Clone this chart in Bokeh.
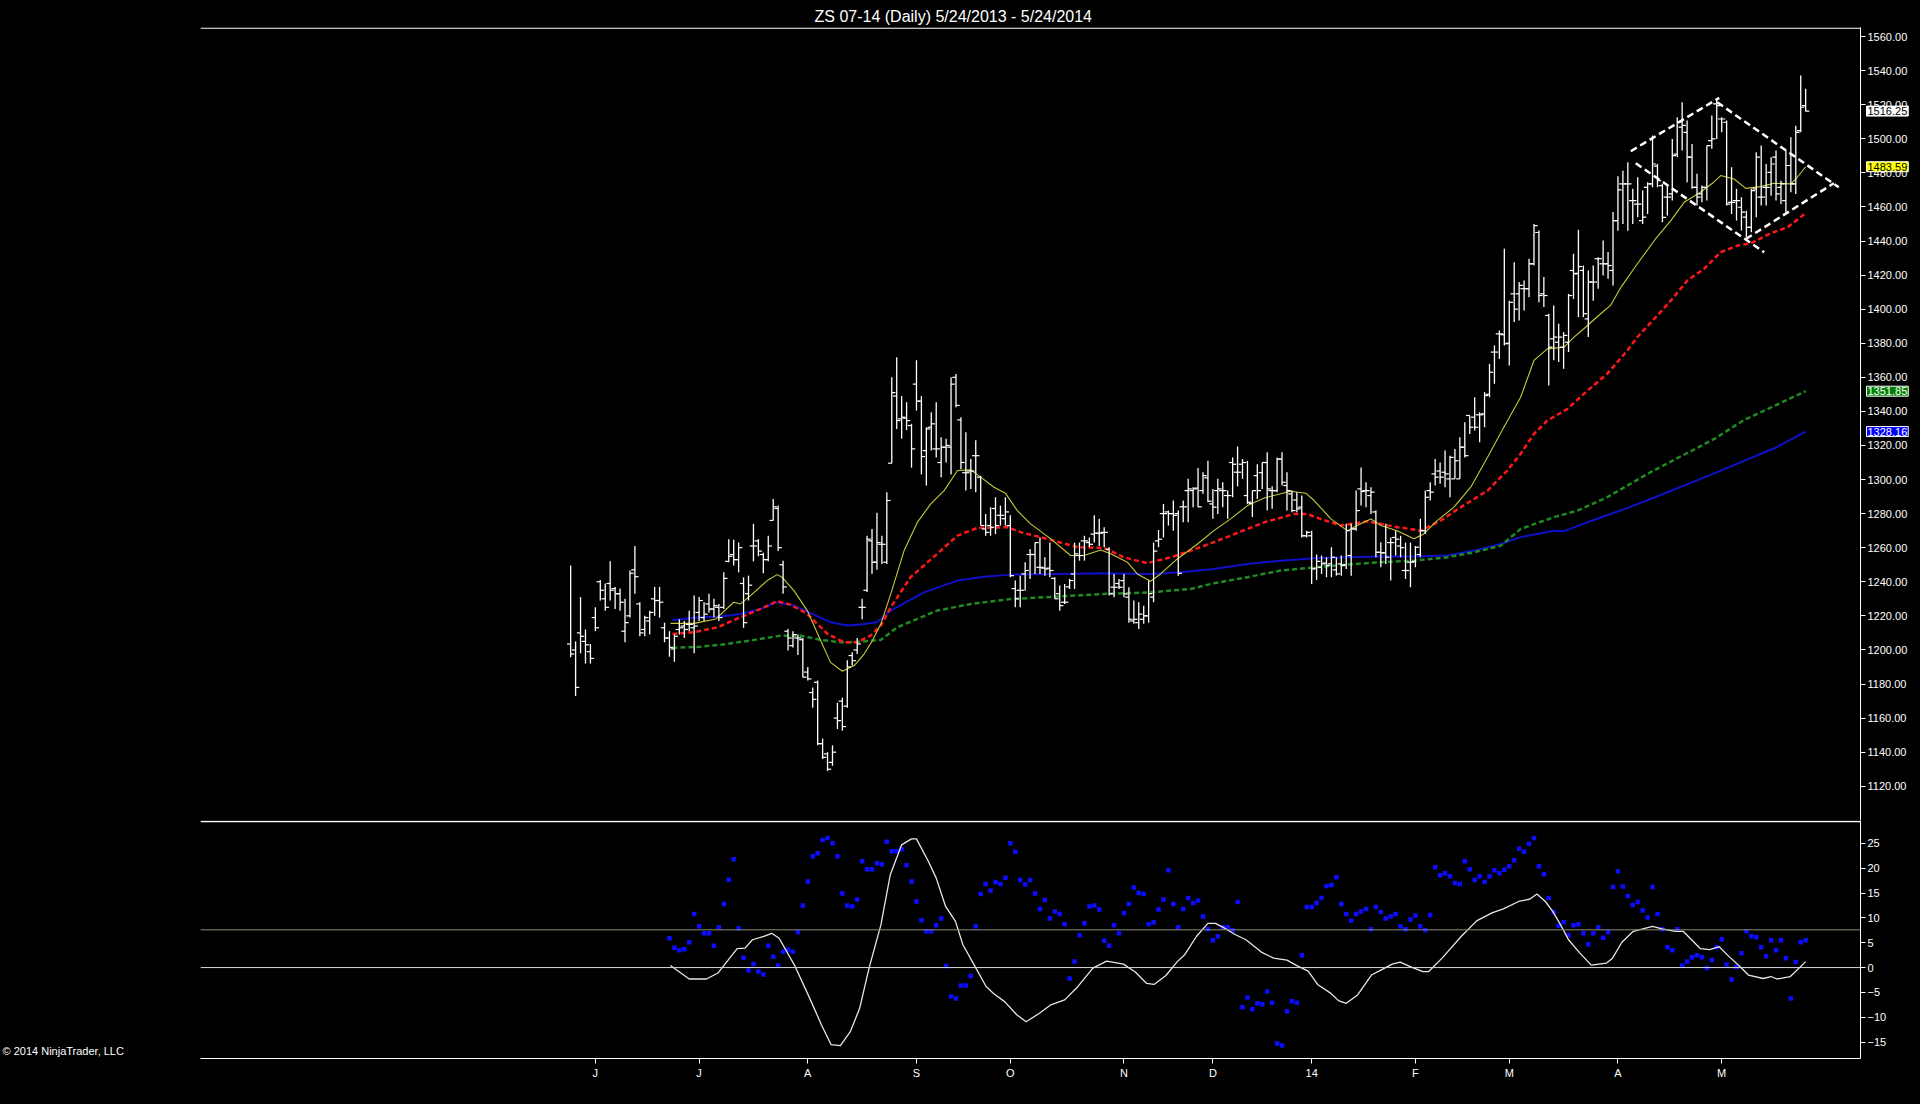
import numpy as np
from bokeh.plotting import figure
from bokeh.layouts import column
from bokeh.models import ColumnDataSource, Range1d, FixedTicker, NumeralTickFormatter, Label, Span
from bokeh.embed import file_html
from bokeh.resources import INLINE

title_text = "ZS 07-14 (Daily)  5/24/2013 - 5/24/2014"
copyright_text = "\u00a9 2014 NinjaTrader, LLC"

# ---- daily OHLC (bar index 0 = 5/24/2013) ----
opens = [
1203.5,1200,1210,1205,1199,1219,1240,1230,1239,1236,
1233,1211,1220,1247,1227,1212,1217,1230,1229,1213,
1207,1200.6,1212,1214,1215,1213,1222,1219,1227,1224,
1225,1225,1252,1256,1253,1239,1233,1261,1264,1256,
1253,1276,1283,1250,1211,1202.5,1207,1206,1187,1175,
1181,1145,1139,1134,1160,1170,1167,1196.7,1200,1225,
1235,1264,1251.5,1262,1251.5,1309.6,1349,1335.6,1336,1331.7,
1356,1346,1317,1330.7,1318,1310,1319,1319,1360,1335,
1304,1305,1314,1301.4,1271,1273,1283,1279,1277,1273,
1236,1235,1244.6,1256,1256,1248.5,1248,1248,1242,1233,
1228,1237,1244.6,1255.4,1264,1263,1268,1268.5,1269,1259,
1236.8,1239,1240.7,1231,1217,1216,1218,1220,1231,1264,
1280,1281,1280,1280,1284,1293.5,1293.5,1295,1293.5,1301,
1285.7,1293.5,1293.5,1290.6,1310,1304.3,1309,1290.6,1286,1302.3,
1304,1310,1293.5,1293.5,1312,1296.5,1291.6,1288,1283.8,1267,
1267,1248,1248.5,1251,1250.5,1247,1250.5,1250,1255.4,1271,
1294.5,1293.5,1290.6,1281,1257.3,1257,1263,1266,1261,1246.6,
1251.5,1252,1256,1270,1293.5,1303.3,1305,1304.3,1300.4,1300.4,
1300.4,1319,1337.6,1336.6,1338,1338.6,1350,1374.8,1385.5,1385,
1380,1409,1409,1412,1412,1426.6,1445,1409,1396.3,1382.6,
1380.6,1377.7,1380.6,1422.7,1421,1422.7,1394.3,1415.9,1429.6,1426.6,
1426.6,1422.7,1452,1473.5,1473.5,1463.7,1461.7,1452,1471.5,1473.5,
1484,1472.5,1465.7,1467.6,1491,1506.8,1503.8,1489.2,1471.5,1467.6,
1471.5,1498.9,1520.5,1511.6,1509.7,1462.7,1463.7,1459.8,1454,1448,
1470.6,1465.7,1471.5,1480.3,1489.2,1471.5,1463.7,1484.3,1473.5,1504.8,
1519.5]
highs = [
1249.5,1205,1231,1212,1203.5,1225,1241,1239,1252,1237,
1236,1230,1246.6,1261,1228,1220,1223,1237,1237,1216,
1211,1209,1218,1217,1223,1232,1231,1228,1233,1230,
1227,1245.6,1265,1264.6,1263,1242.6,1243.6,1274,1265,1257,
1267,1288.6,1284.7,1252.4,1212.3,1211,1209,1207,1190,1178,
1182,1148,1140,1144,1169,1172,1194,1198.6,1207,1230,
1267,1271,1280.5,1267,1292.6,1360,1371.8,1349,1345.4,1332.7,
1370,1349,1330.7,1339.5,1345.4,1324.8,1323.9,1360,1362,1336.6,
1327.8,1312,1323,1302.3,1279.8,1283.7,1289.6,1284.7,1289.6,1279,
1240.7,1243.6,1251.5,1259.3,1263,1266,1254.4,1263,1242.7,1237.8,
1238.7,1241.7,1263,1263,1267,1266,1279,1277,1272,1260.3,
1244.6,1241.7,1244.6,1236.8,1229,1228,1226,1240.7,1263,1270.4,
1285.7,1281.8,1287.7,1281.8,1287.7,1300.4,1295.5,1306.8,1304.3,1311,
1294.5,1300.4,1298.4,1293.5,1313,1319.4,1312,1311,1293.5,1309,
1310,1316,1296,1313,1316,1304.3,1293.5,1292.6,1290.6,1270,
1270,1256,1255.4,1254.4,1260.3,1254.4,1255.4,1274,1274,1293.5,
1307,1298.4,1295.5,1281.8,1263.2,1274,1266,1270,1267,1263,
1263,1261,1277,1293.5,1298.4,1312,1310,1317,1314,1318,
1324.8,1333.7,1337.6,1348.3,1339.5,1351.3,1367.9,1378.7,1387.5,1435.4,
1405,1427.6,1416,1416.8,1429.6,1450,1446.2,1418.8,1397.3,1402.2,
1391.4,1386.5,1409,1432.5,1446.6,1425.6,1422.7,1425.6,1430.5,1440.3,
1433.5,1457,1478,1481.3,1486.2,1470.6,1477.4,1469.6,1474.5,1501.9,
1485.2,1473.5,1472.5,1499.9,1512.6,1521.4,1510.7,1497,1479.4,1472.5,
1496,1513.6,1522.4,1512.6,1510.7,1483.3,1470.6,1465.7,1457.8,1470.6,
1492.1,1496,1485.2,1489.2,1493.1,1475.4,1493.1,1500.9,1507.7,1537.1,
1529.3]
lows = [
1195.7,1173,1198,1192,1192,1211,1229,1223,1229,1224,
1223,1204.5,1219,1233,1208,1208,1209,1220,1219,1204.5,
1196,1193,1209,1207,1211,1198,1217,1217,1222,1219,
1217,1224,1251.5,1249.5,1245.6,1213,1229,1252,1255,1245,
1252,1276,1258,1233,1199.6,1201.5,1197,1184,1182,1166,
1144,1136,1129,1132,1153.6,1152.6,1166,1190.8,1197.6,1218,
1234,1244.6,1247,1250.5,1250.5,1309.6,1329.7,1324,1329,1307,
1340.5,1303,1296.5,1317,1313,1301.4,1310,1303,1342.5,1306,
1293.5,1294.5,1292.6,1273,1267,1267,1268,1273,1273,1242.7,
1225,1225,1234.8,1241.7,1244.6,1244.6,1243.6,1242.7,1230,1223,
1227,1235.8,1235.8,1252.4,1252.4,1260.3,1263,1261,1260.3,1232,
1230.9,1235.8,1230.9,1216,1215.3,1212.3,1215.3,1216,1228,1260.3,
1266,1273,1270,1243.6,1275,1275,1283.8,1283.8,1291.6,1286.7,
1277,1279.8,1283.8,1277,1289.6,1296,1300.4,1285.7,1278,1288.6,
1294.5,1281.8,1282.8,1292.6,1296.5,1281.8,1280.8,1280.8,1266,1266,
1238.7,1241,1244.6,1242.7,1242.7,1243.6,1243.6,1247.5,1243.6,1270,
1284.7,1283.8,1279.8,1254.4,1248.5,1250.5,1240.7,1255.4,1254.4,1241.7,
1236.8,1248.5,1254.4,1268,1287.7,1296.5,1297.5,1295.5,1289.6,1300.4,
1300.4,1313,1326.8,1328.8,1321.9,1330.7,1348.3,1356.2,1370.8,1378.7,
1367,1392.4,1393.4,1399.2,1407,1425.6,1404,1401.2,1355.2,1370,
1369,1365,1374.8,1406,1395.3,1395.3,1383.6,1405,1412,1419.8,
1417.8,1413.9,1446,1450,1446,1450,1453.9,1450,1455.9,1471.5,
1471.5,1451,1454.9,1463.7,1489.2,1493.1,1474.5,1470.6,1460.8,1462.7,
1463.7,1494.1,1499.9,1503.8,1460.8,1455.9,1452,1446.1,1442.2,1445.1,
1453.9,1460.8,1460.8,1466.6,1463.7,1461.7,1456.9,1468.6,1467.6,1503.8,
1516]
closes = [
1197.6,1178,1208,1203,1195,1213,1235,1225,1235,1233,
1228,1216,1245,1243,1210,1219,1222,1229,1228,1207,
1201.5,1208,1213,1212,1215,1214,1229,1221,1224,1226,
1219,1242,1255,1253,1260,1216,1238,1261,1258,1253,
1261,1284,1260,1237,1207,1209,1207,1184,1183,1171,
1145,1137,1130,1140,1158.5,1155,1190,1193.7,1203.5,1225,
1265,1251.5,1263,1262,1287.7,1351,1334.6,1336.6,1334.6,1318,
1346,1313.5,1329.7,1332.7,1318,1319,1320,1356,1343.5,1310,
1304,1305,1314,1273,1269,1272,1273,1279,1281,1243.6,
1230,1235,1246.6,1256,1263,1248.5,1247.5,1246.6,1230,1226,
1228,1240.7,1256.4,1255.4,1264,1262,1268.5,1268.5,1269,1233,
1236.8,1236.8,1232.9,1218,1218,1221,1220,1233,1258,1265,
1280,1280,1279,1245,1284,1294.5,1294.5,1284,1302.3,1287.3,
1283.8,1294.5,1293.5,1290.6,1309,1304.3,1310,1286.7,1293.5,1293.5,
1310,1294.5,1293.5,1312,1298.4,1293.5,1281.8,1282.8,1267,1269,
1247.5,1252,1250.5,1249.5,1254.4,1244.6,1249.5,1270,1271,1281.8,
1293,1293.5,1292.6,1257.3,1257,1254.4,1263,1265,1260,1246.6,
1251.5,1260.3,1270,1289.6,1292.6,1301.4,1301.4,1303.3,1313,1311,
1319,1314,1330.7,1330.7,1338,1349.3,1363,1374.8,1385.5,1379.7,
1404,1400,1414,1412,1426.6,1449,1408,1408,1377.7,1383.6,
1383.6,1384.6,1408,1420.7,1425,1397.3,1415.9,1415.9,1429.6,1426.6,
1425.6,1452,1470,1473.5,1473.5,1463.7,1461.7,1454,1473.5,1485.2,
1475.4,1453.9,1465.7,1490.1,1509.7,1507.8,1489.2,1471.5,1465.7,1471.5,
1496,1499.9,1519.5,1511.6,1461.7,1462.7,1463.7,1456.9,1448,1469.6,
1489.2,1465.7,1471.5,1485.2,1467.6,1473.5,1484.3,1473.5,1503.8,1518.5,
1516.25]

# ---- moving averages (bar index, value) ----
yellow_idx = [20.2,25,29.4,33,34.4,36.4,39.8,41.8,42.8,45.2,47.9,50.6,52.6,55,57.4,59.4,61.1,62.8,64.8,67.5,
              70.2,72.9,75.6,78.3,81,83,85.7,88,90.4,93.1,97.2,101.2,103.9,107.3,109.3,112.7,114.7,117.4,119.4,122.8,
              126.9,130.2,133.6,137,140.4,145.7,148.8,150.5,153.9,157.2,159.9,162,164,167.3,170.7,172.7,175.4,178.8,182.2,185.6,
              188.9,192.3,195,197.7,201.1,203.1,205.1,208.5,210.5,212.6,215.9,219.6,222.7,225.4,228.7,231.4,232.8,235.5,237.9,240.9,
              243.6,247,248.3,250]
yellow_val = [1215.6,1215.6,1218.2,1228,1227,1231.9,1240.7,1244.2,1242.6,1234.8,1223.1,1205.5,1192.7,1187.5,1190.8,1197.6,1205.5,1215.3,1232.9,1258.3,
              1275,1285.7,1293.5,1305.3,1305.7,1301.4,1295.5,1292,1281.8,1274,1265.2,1255.4,1255.4,1258.7,1256.4,1251.5,1244.6,1240.3,1244.6,1253.4,
              1262.2,1270,1276.9,1284.7,1289.2,1293.1,1292,1287.7,1276.9,1270,1274,1276.9,1273,1270,1265.2,1268.1,1275.9,1283.8,1295.5,1313.1,
              1330.7,1348.3,1369.9,1376.7,1377.7,1383.6,1388.5,1397.3,1402.2,1412.8,1426.5,1441.2,1452,1462.7,1468.6,1474.5,1478.4,1476.4,1470.9,1471.9,
              1473.9,1473.5,1477.4,1483.59]
red_idx = [20.6,25,29.7,34.4,38.5,41.8,44.5,47.9,52,55.3,58,60.7,62.8,64.8,68.8,74.2,78.3,82.3,88.4,91.1,
           97.2,102.6,108,112,116.7,121.5,125.5,127.5,133.6,140.4,146.4,149.1,151.8,155.9,161.3,166.7,172.1,176.1,180.2,185.6,
           189.6,192.3,195,197.7,201.8,205.1,209.8,213.9,215.9,219.3,222.7,226,229.4,232.8,236.2,238.9,242.9,246.3,250]
red_val = [1209.4,1210.4,1213.3,1219.2,1224.1,1228.6,1226.6,1221.1,1209.4,1204.5,1204.5,1208.4,1214.3,1225.1,1242.7,1256.4,1267.1,1271.6,1272,1269.1,
           1264.6,1260.3,1259.9,1254.4,1250.9,1254.4,1258.3,1260.3,1267.1,1274.9,1279.8,1279.8,1276.9,1273,1275.5,1272.4,1270,1275.9,1283.8,1293.5,
           1305.3,1315.1,1326.8,1334.6,1341.5,1350.3,1362,1375.7,1383.5,1394.2,1405,1416.7,1423.6,1433.4,1437.3,1438.6,1444.5,1448,1456.3]
blue_idx = [20.6,26.3,30.4,34.4,38.5,41.5,45.2,49.3,52.6,56,58.7,62,64.8,71.5,78.3,83.7,89.1,98.5,108,117.4,
            123.5,130.2,137,143.7,150.5,157.2,164,170.7,177.5,182.9,188.3,192.3,199,201.1,205.8,212.5,218.6,231.6,244,250]
blue_val = [1217.6,1219.2,1219.6,1221.1,1224.1,1228,1226,1220.7,1216.2,1214.3,1214.9,1216.2,1223.1,1233.8,1240.7,1243,1244.2,1244.6,1245,1244.6,
            1245.6,1247.5,1250.5,1252.4,1253.8,1254.4,1254.8,1254.8,1255.4,1258.3,1262.2,1266.2,1270,1269.7,1274.9,1281.8,1288.6,1303.8,1318.8,1328.16]
green_idx = [20.6,26.3,31.7,37.1,42.5,46.6,50.6,54.7,57.4,62.8,66.1,74.2,81,89.1,98.5,108,117.4,125.5,130.2,137,
             143.7,150.5,157.2,164,170.7,177.5,182.9,188.3,192.3,199,203.8,209.8,218.6,231.6,237.5,250]
green_val = [1201.2,1201.9,1203.5,1205.9,1208.4,1208.4,1205.9,1204.5,1204.5,1205.9,1213.3,1223.1,1227,1229.9,1231.3,1232.9,1233.8,1235.8,1239.1,1242.7,
             1246.6,1248.5,1250.1,1251.5,1252.4,1254.4,1257.3,1261.2,1271,1277.9,1281.8,1289.6,1304.3,1324,1334.9,1351.85]

# ---- hand-drawn diamond (bar index, price) ----
trend_x0 = [214.6, 232.1, 215.6, 237.9]
trend_y0 = [1492.7, 1521.4, 1485.6, 1441.2]
trend_x1 = [232.5, 256.7, 241.6, 255.7]
trend_y1 = [1524.0, 1471.5, 1433.4, 1473.9]

# ---- oscillator ----
osc_line_idx = [20.2,24,27.5,29.8,33.7,35.3,36.8,39.1,40.7,42.2,45.3,48.4,50.8,52.7,54.6,56.6,58.5,60.4,62.8,64.7,
                67,69,70,72.4,74,75.9,77.9,79.4,81.7,84.1,85.6,87.9,90.3,92.2,94.9,97.2,100,102.7,105.7,108.5,
                111.9,114.3,116.6,118.1,120.5,122.8,124.3,126.7,129,130.5,132.1,134.4,136.7,
                140,142.3,145,147,149.3,151.2,153.9,155.5,157,159.3,162.1,164,166.3,167.9,170.2,172.5,173.7,176.4,180.3,183.4,
                186.5,188.8,191.9,194.2,195.6,197.3,198.8,200.4,202,204.3,206.6,209.7,210.9,212.8,215.1,219,220.9,223.6,225.2,228.7,
                230.6,232.5,234.5,236.8,238.4,241.4,243,244.2,246.9,250]
osc_line_val = [0.4,-2.3,-2.3,-1.1,3.8,3.9,5.6,6.3,6.9,5.9,0.5,-6.2,-11.6,-15.5,-15.7,-12.9,-8.2,-0.1,8.6,18.7,
                24.7,25.9,25.9,21.4,18,12.3,9.3,4.6,0.5,-3.8,-5.2,-6.9,-9.5,-10.9,-9.2,-7.5,-6.5,-3.8,-0.1,1.3,
                0.7,-0.9,-3.2,-3.4,-1.6,1.2,2.6,6.3,8.9,8.9,8.1,6.7,5.6,
                3.0,1.9,1.5,0.4,-0.7,-3.4,-5.2,-6.7,-7.2,-5.5,-1.5,-0.5,0.7,1.1,0.1,-0.8,-0.8,1.9,6.3,9.4,
                11,11.8,13.3,13.8,14.8,13.3,11.3,8.6,5.6,2.9,0.5,0.9,1.9,5.1,7.3,8.3,7.8,7.3,7.3,3.8,
                3.6,4.2,2.2,0.1,-1.5,-2.2,-1.8,-2.3,-1.8,1.2]
osc_dot_first = 20
osc_dots = [
5.9,4.0,3.5,3.7,5.1,10.8,8.3,6.9,6.9,4.4,
8.1,12.8,17.7,21.8,7.9,2.0,-0.6,0.7,-0.8,-1.4,
4.4,2.2,0.4,3.2,3.6,3.2,7.1,12.5,17.3,22.4,
23.0,25.7,26.1,25.0,22.4,14.9,12.5,12.3,13.7,21.4,
19.8,19.8,21.0,20.8,25.3,23.4,23.4,23.8,20.6,17.3,
13.3,9.5,7.3,7.3,8.5,9.9,0.3,-5.8,-6.2,-3.6,
-3.6,-1.7,8.3,14.8,16.8,15.5,17.2,16.8,18.1,25.0,
23.3,17.6,16.7,17.6,14.9,11.8,13.6,9.9,11.3,10.8,
8.7,-2.2,1.2,6.5,8.9,12.3,12.5,11.7,5.4,4.4,
8.5,6.9,11.0,12.8,16.1,15.0,14.8,8.7,9.1,11.7,
13.7,19.6,12.8,8.1,11.8,14.0,13.0,13.5,10.3,7.7,
5.5,6.3,8.1,8.1,7.5,13.2,
-8.0,-6.0,-8.4,-7.2,-7.4,-4.8,-7.1,-15.3,-15.7,-8.8,
-6.8,-7.1,2.5,12.2,12.2,13.0,14.0,16.4,16.6,18.2,
12.8,10.8,9.4,10.8,11.3,11.8,7.7,12.2,11.2,9.9,10.3,
10.8,8.3,7.7,9.7,10.5,8.3,7.5,10.6,20.2,18.6,
19.0,18.4,17.0,16.8,21.4,19.8,17.6,18.4,17.2,18.4,
19.6,19.0,19.7,20.4,21.6,23.9,23.3,24.9,26.1,20.4,18.8,
14.0,11.2,8.4,9.1,6.5,8.5,8.7,6.9,4.7,6.9,
8.1,6.0,7.1,16.2,19.4,16.3,14.4,12.6,13.2,11.5,10.1,
16.2,10.8,7.7,4.1,3.5,7.7,0.4,1.2,2.1,2.5,
2.1,-0.1,1.5,4.1,5.7,0.6,-2.4,0.1,2.9,7.3,
6.3,6.1,4.1,2.3,5.5,3.5,5.5,1.9,-6.2,1.1,
5.1,5.5]
osc_levels = [0, 7.6]

# ---- axes ----
price_ticks = list(range(1120, 1561, 20))
osc_ticks = [-15, -10, -5, 0, 5, 10, 15, 20, 25]
month_labels = ["J", "J", "A", "S", "O", "N", "D", "14", "F", "M", "A", "M"]
month_idx = [5, 26, 48, 70, 89, 112, 130, 150, 171, 190, 212, 233]

FONT = "Liberation Sans"
W = 1920
RIGHT = 60                 # width of the right axis strip
FRAME_RIGHT = W - RIGHT    # 1860
PX_PER_BAR = 4.94
X_END = 261.1
LEFT = 200                 # left strip (empty area) hosts the side-panel labels
X_START = X_END - (FRAME_RIGHT - LEFT) / PX_PER_BAR
PRICE_LO, PRICE_HI = 1099.9, 1565.3
OSC_LO, OSC_HI = -18.3, 29.6

n = min(len(opens), len(highs), len(lows), len(closes))
ix = np.arange(n, dtype=float)
bars = ColumnDataSource(dict(
    x=ix, o=opens[:n], h=highs[:n], l=lows[:n], c=closes[:n],
    xl=ix - 0.75, xr=ix + 0.75))

xr = Range1d(X_START, X_END)

def style_axis(ax):
    ax.axis_line_color = "white"
    ax.major_tick_line_color = "white"
    ax.major_tick_out = 5
    ax.major_tick_in = 0
    ax.minor_tick_line_color = None
    ax.major_label_text_color = "white"
    ax.major_label_text_font_size = "11px"
    ax.major_label_text_font = FONT
    ax.major_label_standoff = 2

p = figure(width=W, height=820, x_range=xr, y_range=Range1d(PRICE_LO, PRICE_HI),
           output_backend="svg", toolbar_location=None,
           background_fill_color="black", border_fill_color="black",
           outline_line_color=None,
           min_border_left=LEFT, min_border_right=RIGHT, min_border_top=27, min_border_bottom=0,
           y_axis_location="right", x_axis_location=None, title=title_text)
p.title.align = "left"
p.title.offset = 814 - LEFT
p.title.text_color = "white"
p.title.text_font_size = "16px"
p.title.text_font = FONT
p.title.text_font_style = "normal"
p.title.standoff = 6
p.grid.visible = False
ya = p.yaxis[0]
ya.ticker = FixedTicker(ticks=price_ticks)
ya.formatter = NumeralTickFormatter(format="0.00")
style_axis(ya)
p.add_layout(Span(location=PRICE_HI - 0.4, dimension="width", line_color="white", line_width=1.2))

p.line(blue_idx, blue_val, line_color="#1010c8", line_width=2)
p.line(green_idx, green_val, line_color="#1e8c1e", line_width=2.5, line_dash="5 3")
p.line(red_idx, red_val, line_color="#ff1818", line_width=2.5, line_dash="5 3")
p.line(yellow_idx, yellow_val, line_color="#c8c83a", line_width=1.1)

p.segment(x0="x", y0="l", x1="x", y1="h", source=bars, line_color="white", line_width=1.3)
p.segment(x0="xl", y0="o", x1="x", y1="o", source=bars, line_color="white", line_width=1.2)
p.segment(x0="x", y0="c", x1="xr", y1="c", source=bars, line_color="white", line_width=1.2)

p.segment(x0=trend_x0, y0=trend_y0, x1=trend_x1, y1=trend_y1,
          line_color="white", line_width=2.5, line_dash="7 4")

# last-value tags drawn in the price-axis strip (hosted by the left side panel so they are not clipped)
price_tags = [
    (closes[n - 1], "white", "black"),
    (yellow_val[-1], "#ffff00", "black"),
    (green_val[-1], "#008000", "white"),
    (blue_val[-1], "#0000ff", "white"),
]
for val, bg, fg in price_tags:
    p.add_layout(Label(x=FRAME_RIGHT + 6, y=val, x_units="canvas", y_units="data",
                       text=f"{val:.2f}",
                       text_font=FONT, text_font_size="11px", text_color=fg,
                       text_align="left", text_baseline="middle",
                       background_fill_color=bg, border_line_color="white",
                       padding=1), "left")

p2 = figure(width=W, height=284, x_range=xr, y_range=Range1d(OSC_LO, OSC_HI),
            output_backend="svg", toolbar_location=None,
            background_fill_color="black", border_fill_color="black",
            outline_line_color=None,
            min_border_left=LEFT, min_border_right=RIGHT, min_border_top=0, min_border_bottom=46,
            y_axis_location="right")
p2.grid.visible = False
ya2 = p2.yaxis[0]
ya2.ticker = FixedTicker(ticks=osc_ticks)
style_axis(ya2)
xa2 = p2.xaxis[0]
xa2.ticker = FixedTicker(ticks=month_idx)
xa2.major_label_overrides = {int(k): lab for k, lab in zip(month_idx, month_labels)}
style_axis(xa2)
xa2.major_label_standoff = 3

p2.add_layout(Span(location=OSC_HI - 0.2, dimension="width", line_color="white", line_width=1.5))
p2.add_layout(Span(location=osc_levels[1], dimension="width", line_color="#8c8c78", line_width=1))
p2.add_layout(Span(location=osc_levels[0], dimension="width", line_color="#d8d8d8", line_width=1))

dot_x = [osc_dot_first + k for k in range(len(osc_dots))]
p2.scatter(dot_x, osc_dots, marker="square", size=4.5, fill_color="#0c0cff", line_color=None)
p2.line(osc_line_idx, osc_line_val, line_color="#e6e6e6", line_width=1.3)

p2.add_layout(Label(x=2, y=OSC_LO, x_units="canvas", y_units="data", y_offset=2, text=copyright_text,
                    text_font=FONT, text_font_size="11px", text_color="white",
                    text_align="left", text_baseline="bottom"), "left")

layout = column(p, p2, spacing=0, background="black")
open("out.html", "w").write(file_html(layout, INLINE))
